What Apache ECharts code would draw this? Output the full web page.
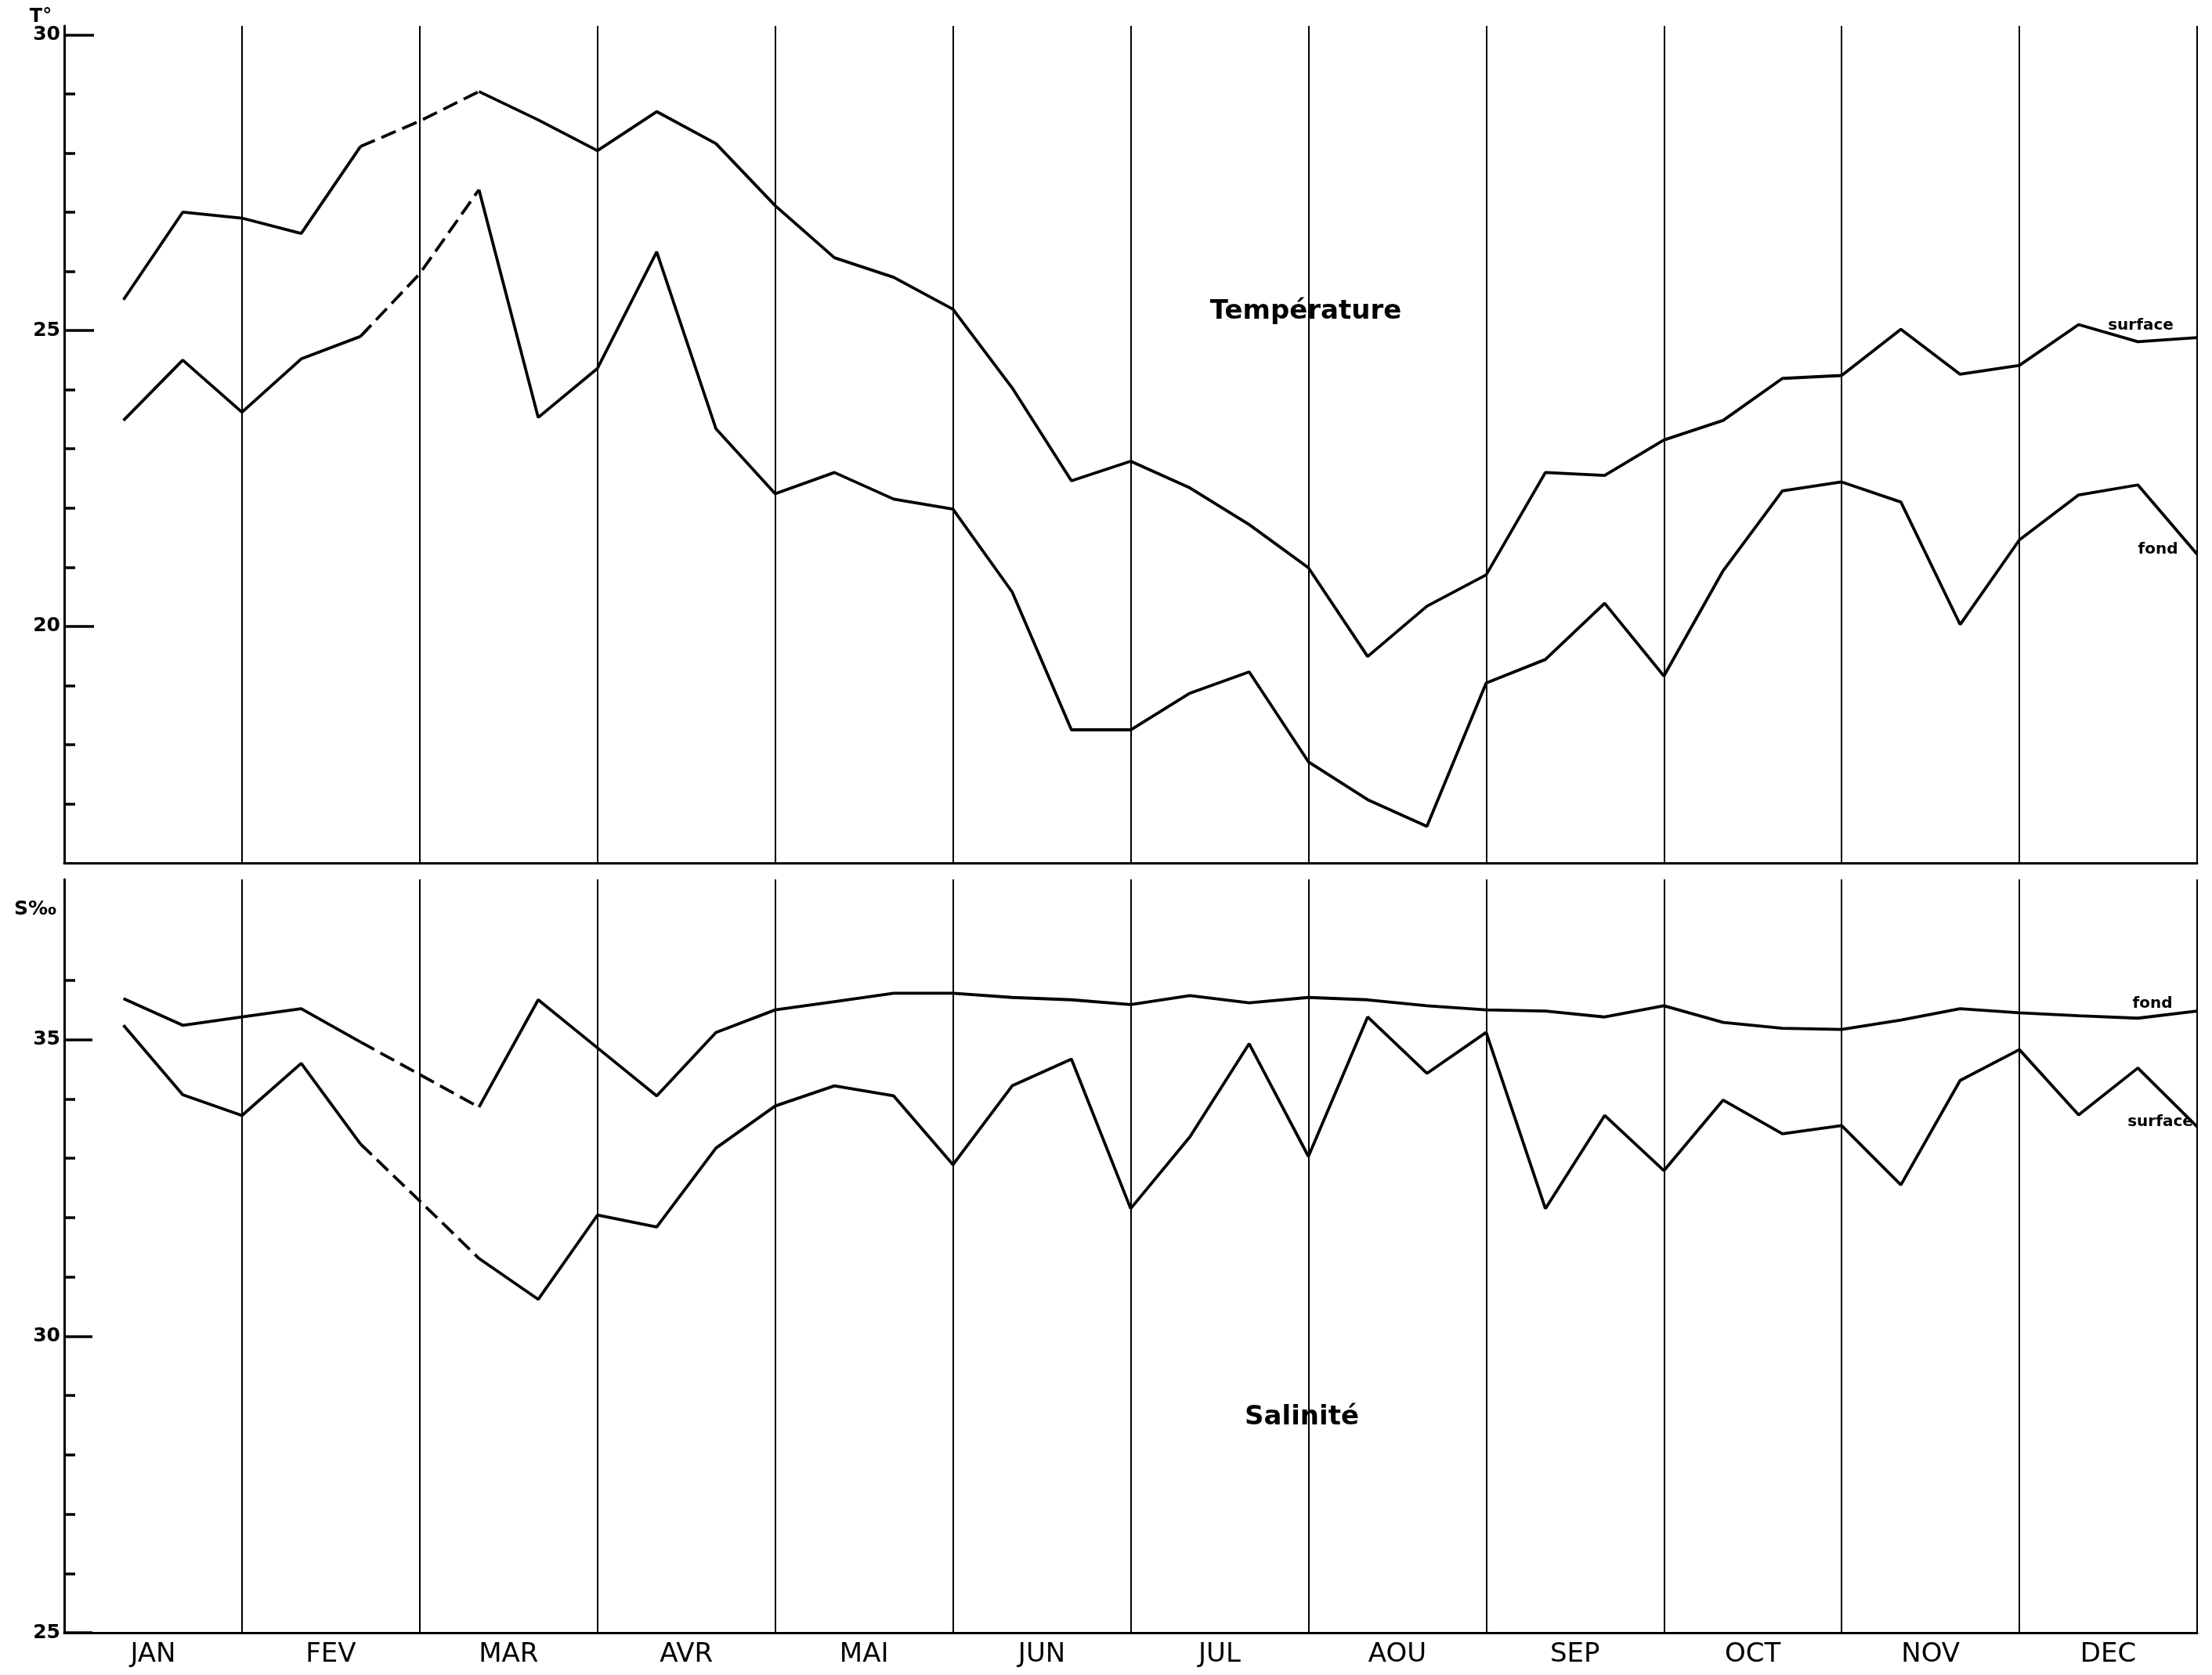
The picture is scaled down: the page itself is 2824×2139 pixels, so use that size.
<!DOCTYPE html>
<html>
<head>
<meta charset="utf-8">
<script src="https://cdn.jsdelivr.net/npm/echarts@6/dist/echarts.min.js"></script>
<style>
  html, body { margin: 0; padding: 0; background: #fff; }
  #main { width: 2824px; height: 2139px; }
</style>
</head>
<body>
<div id="main"></div>
<script>
// mois (un releve tous les 10 jours, 3 par mois)
var months = ['JAN', 'FEV', 'MAR', 'AVR', 'MAI', 'JUN', 'JUL', 'AOU', 'SEP', 'OCT', 'NOV', 'DEC'];

// temperature (degres)
var tempSurface = [25.52, 27.0, 26.9, 26.64, 28.11, 28.54, 29.04, 28.56, 28.04, 28.7, 28.16, 27.11,
  26.23, 25.9, 25.36, 24.03, 22.46, 22.79, 22.34, 21.72, 20.99, 19.49, 20.34, 20.87,
  22.6, 22.55, 23.15, 23.48, 24.19, 24.24, 25.02, 24.26, 24.41, 25.1, 24.81, 24.88];
var tempFond = [23.48, 24.5, 23.62, 24.52, 24.9, 25.96, 27.38, 23.53, 24.36, 26.33, 23.34, 22.24,
  22.6, 22.15, 21.98, 20.58, 18.25, 18.25, 18.87, 19.23, 17.71, 17.07, 16.62, 19.04,
  19.44, 20.39, 19.16, 20.94, 22.29, 22.44, 22.1, 20.03, 21.46, 22.22, 22.39, 21.22];

// salinite (pour mille)
var salFond = [35.69, 35.24, 35.38, 35.52, 34.96, 34.41, 33.86, 35.67, 34.86, 34.05, 35.12, 35.5,
  35.64, 35.78, 35.78, 35.71, 35.67, 35.59, 35.74, 35.62, 35.71, 35.67, 35.57, 35.5,
  35.48, 35.38, 35.57, 35.29, 35.19, 35.17, 35.33, 35.52, 35.45, 35.4, 35.36, 35.48];
var salSurface = [35.24, 34.07, 33.72, 34.6, 33.24, 32.28, 31.31, 30.62, 32.04, 31.84, 33.17, 33.88,
  34.22, 34.05, 32.89, 34.22, 34.67, 32.15, 33.36, 34.93, 33.03, 35.38, 34.43, 35.12,
  32.15, 33.72, 32.79, 33.98, 33.41, 33.55, 32.55, 34.31, 34.83, 33.73, 34.52, 33.53];

// ticks
var tempLabels = [20, 25, 30];
var tempMinor = [17, 18, 19, 21, 22, 23, 24, 26, 27, 28, 29];
var salLabels = [25, 30, 35];
var salMinor = [26, 27, 28, 29, 31, 32, 33, 34, 36];

// releves 5 a 7 relies en tirets (donnees manquantes)
var dashFrom = 4, dashTo = 6;

function solidPart(values) {
  return values.map(function (v, i) {
    return [i + 1, (i > dashFrom && i < dashTo) ? '-' : v];
  });
}
function dashedPart(values) {
  return values.map(function (v, i) {
    return [i + 1, (i >= dashFrom && i <= dashTo) ? v : '-'];
  });
}

var FONT = 'DejaVu Sans';

function lineSeries(values, dashed, xi, yi) {
  return {
    type: 'line',
    xAxisIndex: xi,
    yAxisIndex: yi,
    data: dashed ? dashedPart(values) : solidPart(values),
    symbol: 'none',
    silent: true,
    animation: false,
    lineStyle: { color: '#000', width: 3.8, type: dashed ? [20, 9] : 'solid' }
  };
}

function monthAxis(grid) {
  return {
    type: 'value', gridIndex: grid, min: 0, max: 36, interval: 3,
    axisLine: { show: true, onZero: false, lineStyle: { color: '#000', width: 3 } },
    axisTick: { show: false },
    axisLabel: { show: false },
    splitLine: { show: true, lineStyle: { color: '#000', width: 2 } }
  };
}

function valueAxis(grid, min, max, ticks, withLabels, len) {
  return {
    type: 'value', gridIndex: grid, min: min, max: max, position: 'left',
    axisLine: { show: withLabels, onZero: false, lineStyle: { color: '#000', width: 3 } },
    axisTick: { show: true, inside: true, length: len, customValues: ticks,
      lineStyle: { color: '#000', width: 3.5 } },
    axisLabel: { show: withLabels, customValues: ticks, margin: 5,
      color: '#000', fontFamily: FONT, fontWeight: 'bold', fontSize: 25 },
    splitLine: { show: false }
  };
}

function label(text, x, y, size) {
  return {
    type: 'text', x: x, y: y, silent: true,
    style: { text: text, fill: '#000', font: 'bold ' + size + 'px "' + FONT + '"',
      align: 'center', verticalAlign: 'middle', textAlign: 'center', textVerticalAlign: 'middle' }
  };
}

var chart = echarts.init(document.getElementById('main'));
var option = {
  backgroundColor: '#fff',
  animation: false,
  grid: [
    { left: 82, right: 19, top: 33, height: 1069 },
    { left: 82, right: 19, top: 1123, height: 962 }
  ],
  xAxis: [
    monthAxis(0),
    monthAxis(1),
    {
      type: 'category', gridIndex: 1, data: months, position: 'bottom',
      axisLine: { show: false }, axisTick: { show: false }, splitLine: { show: false },
      axisLabel: { color: '#000', fontFamily: FONT, fontSize: 34, margin: 11 }
    }
  ],
  yAxis: [
    valueAxis(0, 16, 30.15, tempLabels, true, 38),
    valueAxis(0, 16, 30.15, tempMinor, false, 14),
    valueAxis(1, 25, 37.7, salLabels, true, 36),
    valueAxis(1, 25, 37.7, salMinor, false, 14)
  ],
  series: [
    lineSeries(tempSurface, false, 0, 0),
    lineSeries(tempSurface, true, 0, 0),
    lineSeries(tempFond, false, 0, 0),
    lineSeries(tempFond, true, 0, 0),
    lineSeries(salFond, false, 1, 2),
    lineSeries(salFond, true, 1, 2),
    lineSeries(salSurface, false, 1, 2),
    lineSeries(salSurface, true, 1, 2)
  ],
  graphic: [
    label('T°', 52, 22, 24),
    label('S‰', 45, 1161, 25),
    label('Température', 1667, 398, 34),
    label('Salinité', 1662, 1810, 34),
    label('surface', 2733, 416, 20),
    label('fond', 2755, 702, 20),
    label('fond', 2748, 1282, 20),
    label('surface', 2758, 1433, 20)
  ]
};
chart.setOption(option);
</script>
</body>
</html>
